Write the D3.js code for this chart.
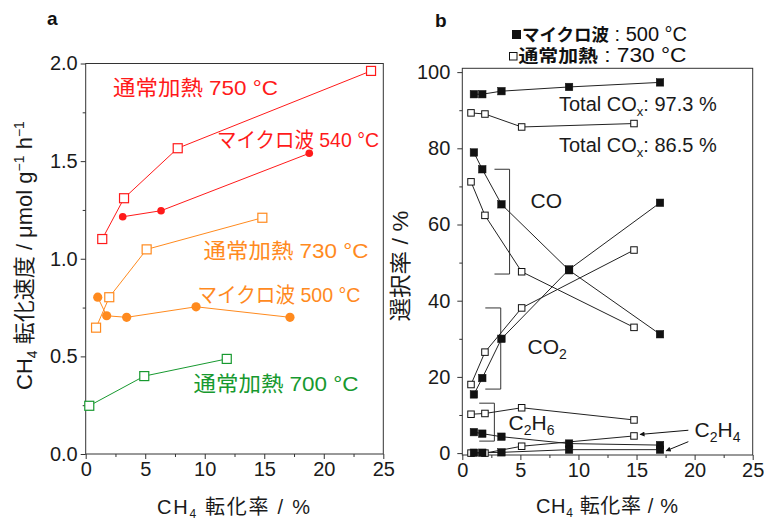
<!DOCTYPE html>
<html>
<head>
<meta charset="utf-8">
<script src="https://cdn.jsdelivr.net/npm/d3@7"></script>
<style>
body { margin: 0; background: #fff; }
text { font-family: "Liberation Sans", Arial, "Noto Sans CJK JP", sans-serif; }
</style>
</head>
<body>
<svg id="chart" width="764" height="521"></svg>
<script>
// ---- panel a : CH4 conversion rate vs conversion ----
var conv750X = [1.39, 3.22, 7.73, 23.97];
var conv750Y = [1.101, 1.310, 1.566, 1.962];
var mw540X = [3.11, 6.33, 18.78];
var mw540Y = [1.215, 1.246, 1.540];
var conv730X = [0.87, 1.98, 5.12, 14.84];
var conv730Y = [0.647, 0.803, 1.048, 1.210];
var mw500X = [1.01, 1.76, 3.44, 9.27, 17.16];
var mw500Y = [0.803, 0.708, 0.700, 0.754, 0.700];
var conv700X = [0.30, 4.92, 11.85];
var conv700Y = [0.247, 0.399, 0.487];

// ---- panel b : selectivity (microwave 500 C vs conventional 730 C) ----
var mwX = [1.0, 1.72, 3.37, 9.19, 17.02];
var thX = [0.75, 1.95, 5.11, 14.78];
var mwCOx = [94.2, 94.2, 95.0, 96.1, 97.3];
var thCOx = [89.3, 89.0, 85.6, 86.5];
var mwCO = [78.9, 74.5, 65.3, 48.0, 31.2];
var thCO = [71.2, 62.4, 47.6, 33.0];
var mwCO2 = [15.4, 19.7, 30.0, 48.2, 65.7];
var thCO2 = [18.0, 26.5, 38.1, 53.3];
var mwC2H6 = [5.5, 5.1, 4.3, 2.5, 2.1];
var thC2H6 = [10.2, 10.4, 11.9, 8.7];
var mwC2H4 = [0.1, 0.1, 0.2, 0.9, 0.9];
var thC2H4 = [0.0, 0.0, 1.8, 4.5];

// brackets grouping the product series (data units)
var bracketLeft = [2.77, 1.98, 1.46];
var bracketRight = [4.07, 3.31, 2.76];
var bracketTop = [74.5, 38.1, 13.1];
var bracketBottom = [47.0, 16.8, 3.15];
// C2H4 arrows
var arrowFrom = [[19.46, 6.0], [19.46, 3.0]];
var arrowTo = [[15.3, 4.9], [17.55, 0.6]];

// ticks
var xMajor = [0, 5, 10, 15, 20, 25];
var xMinor = [2.5, 7.5, 12.5, 17.5, 22.5];
var aYMajor = [0, 0.5, 1.0, 1.5, 2.0];
var aYMinor = [0.25, 0.75, 1.25, 1.75];
var bYMajor = [0, 20, 40, 60, 80, 100];
var bYMinor = [10, 30, 50, 70, 90];

var RED = "#ff1a1a", ORANGE = "#ff8a1e", GREEN = "#17992f";
var FONT = '"Liberation Sans", Arial, "Noto Sans CJK JP", sans-serif';

var svg = d3.select("#chart");

var xA = d3.scaleLinear().domain([0, 25]).range([85.7, 383.3]);
var yA = d3.scaleLinear().domain([0, 2]).range([454, 63.5]);
var xB = d3.scaleLinear().domain([0, 25]).range([462.3, 752.7]);
var yB = d3.scaleLinear().domain([-0.5, 101]).range([455, 68.3]);

function zip(xs, ys) { return xs.map(function(x, i) { return [x, ys[i]]; }); }

function axes(x, y, yMaj, yMin, yFmt, yPad) {
  var x0 = x.range()[0], x1 = x.range()[1], y0 = y.range()[0], y1 = y.range()[1];
  var gs = [];
  gs.push(svg.append("g").attr("transform", "translate(0," + y0 + ")")
    .call(d3.axisBottom(x).tickValues(xMajor).tickSize(5).tickSizeOuter(0).tickPadding(3).tickFormat(d3.format("d"))));
  gs.push(svg.append("g").attr("transform", "translate(0," + y0 + ")")
    .call(d3.axisBottom(x).tickValues(xMinor).tickSize(3).tickSizeOuter(0).tickFormat("")));
  gs.push(svg.append("g").attr("transform", "translate(" + x0 + ",0)")
    .call(d3.axisLeft(y).tickValues(yMaj).tickSize(5).tickSizeOuter(0).tickPadding(yPad).tickFormat(yFmt)));
  gs.push(svg.append("g").attr("transform", "translate(" + x0 + ",0)")
    .call(d3.axisLeft(y).tickValues(yMin).tickSize(3).tickSizeOuter(0).tickFormat("")));
  gs.forEach(function(g) {
    g.select(".domain").remove();
    g.selectAll("line").attr("stroke", "#333");
    g.selectAll("text").attr("font-family", FONT).attr("font-size", 20).attr("fill", "#1a1a1a");
  });
  svg.append("rect")
    .attr("x", x0).attr("y", y1).attr("width", x1 - x0).attr("height", y0 - y1)
    .attr("fill", "none").attr("stroke", "#333").attr("stroke-width", 1);
}

function line(x, y, pts, color, lw) {
  svg.append("path").datum(pts)
    .attr("d", d3.line().x(function(d) { return x(d[0]); }).y(function(d) { return y(d[1]); }))
    .attr("fill", "none").attr("stroke", color).attr("stroke-width", lw);
}

function squares(x, y, pts, color, size, filled, sw) {
  svg.append("g").selectAll("rect").data(pts).enter().append("rect")
    .attr("x", function(d) { return x(d[0]) - size / 2; })
    .attr("y", function(d) { return y(d[1]) - size / 2; })
    .attr("width", size).attr("height", size)
    .attr("fill", filled ? color : "#fff")
    .attr("stroke", color).attr("stroke-width", sw);
}

function circles(x, y, pts, color, r) {
  svg.append("g").selectAll("circle").data(pts).enter().append("circle")
    .attr("cx", function(d) { return x(d[0]); })
    .attr("cy", function(d) { return y(d[1]); })
    .attr("r", r).attr("fill", color);
}

function label(x, y, str, color, size, len, weight) {
  var t = svg.append("text").attr("x", x).attr("y", y).text(str)
    .attr("fill", color).attr("font-size", size);
  if (len) t.attr("textLength", len).attr("lengthAdjust", "spacingAndGlyphs");
  if (weight) t.attr("font-weight", weight);
  return t;
}

// ================= panel a =================
axes(xA, yA, aYMajor, aYMinor, d3.format(".1f"), 3);

var aSeries = [
  { pts: zip(conv750X, conv750Y), color: RED, open: true },
  { pts: zip(mw540X, mw540Y), color: RED, open: false, r: 3.8 },
  { pts: zip(conv730X, conv730Y), color: ORANGE, open: true },
  { pts: zip(mw500X, mw500Y), color: ORANGE, open: false, r: 4.6 },
  { pts: zip(conv700X, conv700Y), color: GREEN, open: true }
];
aSeries.forEach(function(s) { line(xA, yA, s.pts, s.color, 1); });
aSeries.forEach(function(s) {
  if (s.open) squares(xA, yA, s.pts, s.color, 9, false, 1.2);
  else circles(xA, yA, s.pts, s.color, s.r);
});

label(113, 95, "通常加熱 750 °C", RED, 21, 165);
label(217, 146.5, "マイクロ波 540 °C", RED, 21, 162);
label(203.5, 258, "通常加熱 730 °C", ORANGE, 21, 165);
label(197.5, 301.5, "マイクロ波 500 °C", ORANGE, 21, 163);
label(193.5, 390.5, "通常加熱 700 °C", GREEN, 21, 165);

label(47, 25, "a", "#111", 19, null, "bold");

// axis titles panel a
var ta = svg.append("text").attr("x", 157).attr("y", 514).attr("font-size", 20).attr("fill", "#1a1a1a")
  .attr("textLength", 153).attr("lengthAdjust", "spacing");
ta.append("tspan").text("CH");
ta.append("tspan").attr("font-size", 12).attr("dy", 4).text("4");
ta.append("tspan").attr("dy", -4).text(" 転化率 / %");

var tya = svg.append("text").attr("transform", "translate(32,255.5) rotate(-90)")
  .attr("text-anchor", "middle").attr("font-size", 22).attr("fill", "#1a1a1a");
tya.append("tspan").text("CH");
tya.append("tspan").attr("font-size", 14).attr("dy", 5).text("4");
tya.append("tspan").attr("dy", -5).text(" 転化速度 / μmol g");
tya.append("tspan").attr("font-size", 14).attr("dy", -8).text("−1");
tya.append("tspan").attr("dy", 8).text(" h");
tya.append("tspan").attr("font-size", 14).attr("dy", -8).text("−1");

// ================= panel b =================
axes(xB, yB, bYMajor, bYMinor, d3.format("d"), 7);

// brackets
bracketLeft.forEach(function(l, i) {
  var xl = xB(l), xr = xB(bracketRight[i]), yt = yB(bracketTop[i]), yb = yB(bracketBottom[i]);
  svg.append("path")
    .attr("d", "M" + xl + "," + yt + "H" + xr + "V" + yb + "H" + xl)
    .attr("fill", "none").attr("stroke", "#333").attr("stroke-width", 1);
});

var mwSets = [mwCOx, mwCO, mwCO2, mwC2H6, mwC2H4];
var thSets = [thCOx, thCO, thCO2, thC2H6, thC2H4];
thSets.forEach(function(s) { line(xB, yB, zip(thX, s), "#222", 1); });
mwSets.forEach(function(s) { line(xB, yB, zip(mwX, s), "#222", 1); });
thSets.forEach(function(s) { squares(xB, yB, zip(thX, s), "#111", 6.5, false, 1); });
mwSets.forEach(function(s) { squares(xB, yB, zip(mwX, s), "#111", 7.5, true, 0.5); });

// arrows
svg.append("defs").append("marker")
  .attr("id", "arr").attr("viewBox", "0 0 10 10").attr("refX", 9).attr("refY", 5)
  .attr("markerWidth", 8).attr("markerHeight", 5).attr("markerUnits", "userSpaceOnUse")
  .attr("orient", "auto")
  .append("path").attr("d", "M0,0L10,5L0,10Z").attr("fill", "#111");
arrowFrom.forEach(function(f, i) {
  svg.append("line")
    .attr("x1", xB(f[0])).attr("y1", yB(f[1]))
    .attr("x2", xB(arrowTo[i][0])).attr("y2", yB(arrowTo[i][1]))
    .attr("stroke", "#111").attr("stroke-width", 1).attr("marker-end", "url(#arr)");
});

// product labels
function chem(x, y, parts) {
  var t = svg.append("text").attr("x", x).attr("y", y).attr("font-size", 21).attr("fill", "#1a1a1a");
  parts.forEach(function(p) {
    if (p.sub) t.append("tspan").attr("font-size", 14).attr("dy", 5).text(p.s);
    else t.append("tspan").attr("dy", p.back ? -5 : 0).text(p.s);
  });
  return t;
}
chem(530.5, 207.5, [{ s: "CO" }]);
chem(527.5, 354, [{ s: "CO" }, { s: "2", sub: true }]);
chem(508.5, 429.5, [{ s: "C" }, { s: "2", sub: true }, { s: "H", back: true }, { s: "6", sub: true }]);
chem(694.5, 436.5, [{ s: "C" }, { s: "2", sub: true }, { s: "H", back: true }, { s: "4", sub: true }]);

function totalLabel(y, val) {
  var t = svg.append("text").attr("x", 559).attr("y", y).attr("font-size", 20).attr("fill", "#1a1a1a");
  t.append("tspan").text("Total CO");
  t.append("tspan").attr("font-size", 13).attr("dy", 5).text("x");
  t.append("tspan").attr("dy", -5).text(": " + val + " %");
}
totalLabel(111, "97.3");
totalLabel(151.5, "86.5");

// legend (one text per line so nothing overlaps)
function legendLine(x, y, name, rest, len) {
  var t = svg.append("text").attr("x", x).attr("y", y).attr("font-size", 20).attr("fill", "#111")
    .attr("textLength", len).attr("lengthAdjust", "spacingAndGlyphs");
  t.append("tspan").attr("font-weight", "bold").attr("font-size", 17.5).text(name);
  t.append("tspan").text(rest);
}
svg.append("rect").attr("x", 512).attr("y", 30).attr("width", 9).attr("height", 9).attr("fill", "#111");
legendLine(522, 40.5, "マイクロ波", " : 500 °C", 165);
svg.append("rect").attr("x", 509.5).attr("y", 52.5).attr("width", 7.5).attr("height", 7.5)
  .attr("fill", "#fff").attr("stroke", "#111").attr("stroke-width", 1);
legendLine(518.5, 61.5, "通常加熱", " : 730 °C", 168);

label(435, 27, "b", "#111", 19, null, "bold");

// axis titles panel b
var tb = svg.append("text").attr("x", 536).attr("y", 513).attr("font-size", 20).attr("fill", "#1a1a1a")
  .attr("textLength", 142).attr("lengthAdjust", "spacing");
tb.append("tspan").text("CH");
tb.append("tspan").attr("font-size", 12).attr("dy", 4).text("4");
tb.append("tspan").attr("dy", -4).text(" 転化率 / %");

svg.append("text").attr("transform", "translate(408,266) rotate(-90)")
  .attr("text-anchor", "middle").attr("font-size", 22).attr("fill", "#1a1a1a")
  .attr("textLength", 111).attr("lengthAdjust", "spacingAndGlyphs")
  .text("選択率 / %");
</script>
</body>
</html>
